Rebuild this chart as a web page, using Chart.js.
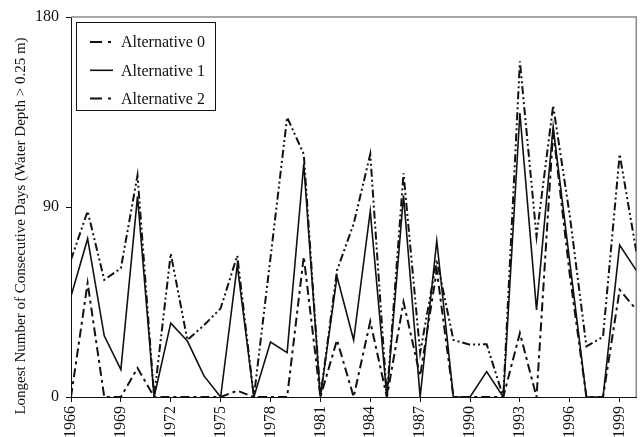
<!DOCTYPE html>
<html>
<head>
<meta charset="utf-8">
<script src="https://cdn.jsdelivr.net/npm/chart.js@4.4.0/dist/chart.umd.min.js"></script>
<style>
html,body{margin:0;padding:0;background:#fff;}
#wrap{width:643px;height:437px;position:relative;overflow:hidden;}
</style>
</head>
<body>
<div id="wrap"><canvas id="c" width="643" height="437"></canvas></div>
<script>
const years = [1966,1967,1968,1969,1970,1971,1972,1973,1974,1975,1976,1977,1978,1979,1980,1981,1982,1983,1984,1985,1986,1987,1988,1989,1990,1991,1992,1993,1994,1995,1996,1997,1998,1999,2000];
const xTickYears = [1966,1969,1972,1975,1978,1981,1984,1987,1990,1993,1996,1999];
const yTickValues = [0,90,180];
const seriesNames = ['Alternative 0','Alternative 1','Alternative 2'];
const yTitle = 'Longest Number of Consecutive Days (Water Depth > 0.25 m)';

const alt0 = [0,54,0,0,13.7,0,0,0,0,0,3,0,0,0,66.5,0,27,0,35.8,0,45,10,60,0,0,0,0,30.3,0,126,58,0,0,50.8,41.4];
const alt1 = [47.7,75,29,13,95,0,35,26.5,10,0,62.5,0,26,21,110.5,0,57,27,88,0,95.5,0,74,0,0,12,0,134.5,41.3,128,64,0,0,72,60];
const alt2 = [65,88,55.5,61,105,0,68,27,34,42,67,0,66,132.5,115,0,60,82,115,0,106,21,65,27,24.8,25,0,159,76,138,86,24,28.5,115,69];

const SERIF = '"Liberation Serif","Times New Roman",Times,serif';

function pts(arr){ return years.map((yr,i)=>({x:yr,y:arr[i]})); }

const framePlugin = {
  id:'frame',
  beforeDatasetsDraw(chart){
    const {ctx, chartArea:ca} = chart;
    ctx.save();
    ctx.strokeStyle = '#8a8a8a';
    ctx.lineWidth = 1.5;
    ctx.beginPath();
    ctx.moveTo(ca.left, ca.top);
    ctx.lineTo(ca.right, ca.top);
    ctx.lineTo(ca.right, ca.bottom);
    ctx.stroke();
    ctx.restore();
  }
};

const titlePlugin = {
  id:'ytitle',
  afterDraw(chart){
    const {ctx, chartArea:ca} = chart;
    ctx.save();
    ctx.translate(21.5, ca.top + (ca.bottom-ca.top)/2 + 19);
    ctx.rotate(-Math.PI/2);
    ctx.fillStyle = '#111';
    ctx.font = '15px ' + SERIF;
    ctx.textAlign = 'center';
    ctx.textBaseline = 'middle';
    ctx.fillText(yTitle, 0, 0);
    ctx.restore();
  }
};

const legendPlugin = {
  id:'boxlegend',
  afterDraw(chart){
    const {ctx, chartArea:ca} = chart;
    const bx = ca.left + 5, by = ca.top + 5, bw = 139, bh = 88;
    ctx.save();
    ctx.fillStyle = '#fff';
    ctx.fillRect(bx, by, bw, bh);
    ctx.strokeStyle = '#111';
    ctx.lineWidth = 1;
    ctx.strokeRect(bx+0.5, by+0.5, bw, bh);
    ctx.font = '16px ' + SERIF;
    ctx.textBaseline = 'middle';
    ctx.textAlign = 'left';
    chart.data.datasets.forEach((ds, i) => {
      const y = by + 20 + i*28.3;
      ctx.beginPath();
      ctx.setLineDash(ds.legendDash || []);
      ctx.lineWidth = ds.borderWidth;
      ctx.strokeStyle = ds.borderColor;
      ctx.moveTo(bx+14, y);
      ctx.lineTo(bx+37, y);
      ctx.stroke();
      ctx.setLineDash([]);
      ctx.fillStyle = '#111';
      ctx.fillText(ds.label, bx+45, y+1);
    });
    ctx.restore();
  }
};

new Chart(document.getElementById('c'), {
  type:'line',
  data:{
    datasets:[
      {label:seriesNames[0], data:pts(alt0), borderColor:'#111', borderWidth:2, borderDash:[9,4,3,4], legendDash:[12,6,3,50], pointRadius:0, tension:0, fill:false},
      {label:seriesNames[1], data:pts(alt1), borderColor:'#111', borderWidth:1.6, borderDash:[], legendDash:[], pointRadius:0, tension:0, fill:false},
      {label:seriesNames[2], data:pts(alt2), borderColor:'#111', borderWidth:2, borderDash:[8,3,2,3,2,3], legendDash:[12,6,3,50], pointRadius:0, tension:0, fill:false}
    ]
  },
  options:{
    responsive:false,
    animation:false,
    devicePixelRatio:1,
    layout:{padding:{top:17,right:5,left:0,bottom:0}},
    plugins:{legend:{display:false}, tooltip:{enabled:false}},
    scales:{
      x:{
        type:'linear', min:1966, max:2000,
        afterBuildTicks(s){ s.ticks = xTickYears.map(v=>({value:v})); },
        afterFit(s){ s.height = 40; },
        grid:{display:true, drawOnChartArea:false, drawTicks:true, tickLength:5, color:'#111', lineWidth:1},
        border:{display:true, color:'#111', width:1},
        ticks:{color:'#111', font:{family:SERIF, size:16}, minRotation:90, maxRotation:90, padding:4, autoSkip:false, callback:(v)=>String(v)}
      },
      y:{
        type:'linear', min:0, max:180,
        afterBuildTicks(s){ s.ticks = yTickValues.map(v=>({value:v})); },
        afterFit(s){ s.width = 71; },
        grid:{display:true, drawOnChartArea:false, drawTicks:true, tickLength:5, color:'#111', lineWidth:1},
        border:{display:true, color:'#111', width:1},
        ticks:{color:'#111', font:{family:SERIF, size:16}, padding:7, callback:(v)=>String(v)}
      }
    }
  },
  plugins:[framePlugin, titlePlugin, legendPlugin]
});
</script>
</body>
</html>
